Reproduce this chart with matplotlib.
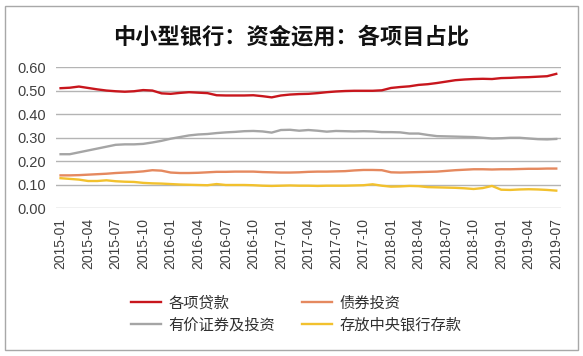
import matplotlib
matplotlib.use('Agg')
import matplotlib.pyplot as plt
from matplotlib.patches import Rectangle
import pandas as pd

plt.rcParams['font.family'] = ['Liberation Sans', 'Noto Sans CJK SC']

# monthly, 2015-01 .. 2019-07
months = pd.period_range('2015-01', '2019-07', freq='M').strftime('%Y-%m').tolist()

loans = [0.511, 0.513, 0.518, 0.512, 0.506, 0.501, 0.498, 0.496, 0.498, 0.503,
         0.501, 0.489, 0.487, 0.491, 0.494, 0.492, 0.490, 0.481, 0.480, 0.480,
         0.480, 0.481, 0.477, 0.472, 0.480, 0.484, 0.486, 0.487, 0.490, 0.494,
         0.497, 0.499, 0.500, 0.500, 0.500, 0.502, 0.512, 0.516, 0.519, 0.525,
         0.528, 0.533, 0.539, 0.545, 0.548, 0.550, 0.551, 0.550, 0.554, 0.555,
         0.557, 0.558, 0.560, 0.562, 0.572]

bonds = [0.140, 0.140, 0.141, 0.143, 0.145, 0.147, 0.150, 0.152, 0.154, 0.157,
         0.162, 0.160, 0.152, 0.150, 0.150, 0.151, 0.153, 0.155, 0.155, 0.156,
         0.156, 0.156, 0.154, 0.153, 0.152, 0.152, 0.153, 0.155, 0.156, 0.156,
         0.157, 0.158, 0.161, 0.163, 0.163, 0.162, 0.153, 0.152, 0.153, 0.154,
         0.155, 0.156, 0.159, 0.162, 0.164, 0.166, 0.166, 0.165, 0.166, 0.166,
         0.167, 0.168, 0.168, 0.169, 0.169]

securities = [0.230, 0.230, 0.238, 0.246, 0.254, 0.262, 0.270, 0.272, 0.272, 0.274,
              0.280, 0.287, 0.296, 0.303, 0.310, 0.314, 0.316, 0.320, 0.323, 0.325,
              0.328, 0.329, 0.327, 0.322, 0.333, 0.334, 0.330, 0.333, 0.330, 0.326,
              0.329, 0.328, 0.327, 0.328, 0.327, 0.324, 0.324, 0.323, 0.318, 0.318,
              0.312, 0.307, 0.306, 0.305, 0.304, 0.303, 0.300, 0.297, 0.298, 0.300,
              0.300, 0.297, 0.294, 0.293, 0.295]

central_bank = [0.128, 0.125, 0.122, 0.116, 0.116, 0.119, 0.115, 0.113, 0.112, 0.108,
                0.106, 0.105, 0.103, 0.101, 0.100, 0.099, 0.098, 0.103, 0.099, 0.099,
                0.099, 0.098, 0.096, 0.095, 0.096, 0.097, 0.096, 0.096, 0.095, 0.096,
                0.096, 0.096, 0.097, 0.098, 0.102, 0.096, 0.092, 0.093, 0.095, 0.094,
                0.090, 0.089, 0.088, 0.087, 0.085, 0.082, 0.086, 0.095, 0.079, 0.078,
                0.080, 0.081, 0.080, 0.078, 0.075]

labels = ['各项贷款', '债券投资', '有价证券及投资', '存放中央银行存款']
colors = ['#C8161D', '#E5895F', '#A5A5A5', '#F2C12E']

fig = plt.figure(figsize=(5.83, 3.56), dpi=100)
fig.patch.set_facecolor('white')
fig.patches.append(Rectangle((0.0086, 0.0169), 0.983, 0.966, transform=fig.transFigure,
                             fill=False, edgecolor='#A8A8A8', lw=1.0))

ax = fig.add_axes([0.096, 0.415, 0.866, 0.396])
x = range(len(months))
lines = []
for ys, c in zip([loans, bonds, securities, central_bank], colors):
    ln, = ax.plot(x, ys, color=c, lw=1.7)
    lines.append(ln)

ax.set_xlim(-0.5, len(months) - 0.5)
ax.set_ylim(0, 0.6)
ax.set_yticks([0, 0.1, 0.2, 0.3, 0.4, 0.5, 0.6])
ax.set_yticklabels(['%.2f' % v for v in ax.get_yticks()])
ax.set_xticks(list(x)[::3])
ax.set_xticklabels(months[::3], rotation=90)
ax.tick_params(axis='both', length=0, labelsize=10.5, colors='#404040')
ax.tick_params(axis='y', pad=7)
ax.tick_params(axis='x', pad=7, labelsize=10)
ax.grid(axis='y', color='#B4B4B4', lw=1.0)
ax.set_axisbelow(True)
for s in ax.spines.values():
    s.set_visible(False)

fig.text(0.5, 0.896, '中小型银行：资金运用：各项目占比', ha='center', va='center',
         fontsize=16, fontweight='bold', family='Noto Sans CJK SC', color='#111111')

# legend fills column by column, so order handles to get rows like the reference
order = [0, 2, 1, 3]
fig.legend([lines[i] for i in order], [labels[i] for i in order],
           loc='center', bbox_to_anchor=(0.508, 0.118), ncol=2, frameon=False,
           prop={'family': 'Noto Sans CJK SC', 'size': 11}, handlelength=2.0,
           handletextpad=0.5, columnspacing=1.7, labelspacing=0.3,
           labelcolor='#303030')

fig.savefig('out.png', dpi=100)
